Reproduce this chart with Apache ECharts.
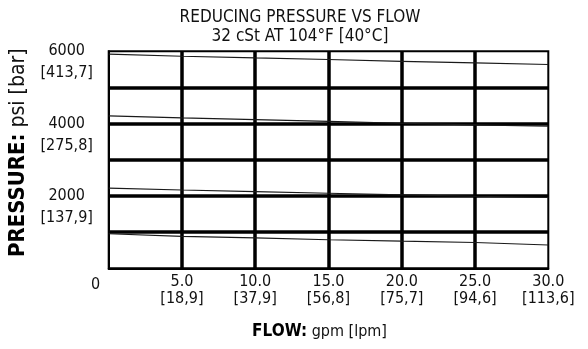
<!DOCTYPE html>
<html>
<head>
<meta charset="utf-8">
<script src="https://cdn.jsdelivr.net/npm/echarts@6/dist/echarts.min.js"></script>
<style>
html,body{margin:0;padding:0;background:#fff;}
#c{width:588px;height:349px;}
</style>
</head>
<body>
<div id="c"></div>
<script>
// Data (flow in gpm, pressure in psi)
const flowGpm = [0, 5, 10, 15, 20, 25, 30];
const curve1 = [5920, 5862, 5815, 5770, 5720, 5677, 5633];
const curve2 = [4213, 4158, 4110, 4060, 4010, 3965, 3925];
const curve3 = [2217, 2162, 2120, 2075, 2030, 1990, 1955];
const curve4 = [955, 883, 840, 790, 750, 712, 643];

// Tick labels
const xTickGpm = ['5.0', '10.0', '15.0', '20.0', '25.0', '30.0'];
const xTickLpm = ['18,9', '37,9', '56,8', '75,7', '94,6', '113,6'];
const yTickPsi = ['2000', '4000', '6000'];
const yTickBar = ['137,9', '275,8', '413,7'];

const FONT = "'Liberation Sans Narrow', 'DejaVu Sans Condensed', 'Liberation Sans', sans-serif";

function pairs(ys) { return flowGpm.map((x, i) => [x, ys[i]]); }

const chart = echarts.init(document.getElementById('c'), null, { renderer: 'canvas' });
const lineStyle = { color: '#1a1a1a', width: 1.1 };
const mkSeries = (d) => ({
  type: 'line', data: pairs(d), showSymbol: false, symbol: 'none',
  lineStyle: lineStyle, animation: false, z: 3
});

chart.setOption({
  animation: false,
  backgroundColor: '#fff',
  title: {
    text: 'REDUCING PRESSURE VS FLOW\n32 cSt AT 104°F [40°C]',
    left: 295, top: 3, textAlign: 'center',
    textStyle: { fontFamily: FONT, fontSize: 17, fontWeight: 'normal', color: '#111', lineHeight: 19 }
  },
  grid: {
    left: 108.7, right: 39.7, top: 51.2, bottom: 80.7,
    outerBoundsMode: 'none', containLabel: false,
    show: true, borderColor: '#000', borderWidth: 2, backgroundColor: 'transparent'
  },
  xAxis: {
    type: 'value', min: 0, max: 30, interval: 5,
    axisLine: { show: true, lineStyle: { color: '#000', width: 2 } },
    axisTick: { show: false },
    splitLine: { show: true, showMinLine: false, showMaxLine: false, lineStyle: { color: '#000', width: 3.5 } },
    axisLabel: {
      margin: 5, color: '#111', fontFamily: FONT, fontSize: 16, lineHeight: 17,
      formatter: function (v) {
        const i = Math.round(v / 5) - 1;
        if (i < 0 || i >= xTickGpm.length) return '';
        return xTickGpm[i] + '\n[' + xTickLpm[i] + ']';
      }
    },
    name: '{b|FLOW:} gpm [lpm]', nameLocation: 'middle', nameGap: 55,
    nameTextStyle: {
      fontFamily: FONT, fontSize: 16, color: '#111', padding: [0, 18, 0, 0],
      rich: { b: { fontFamily: FONT, fontSize: 17, fontWeight: 'bold', color: '#000' } }
    }
  },
  yAxis: {
    type: 'value', min: 0, max: 6000, interval: 1000,
    axisLine: { show: true, lineStyle: { color: '#000', width: 2 } },
    axisTick: { show: false },
    splitLine: { show: true, showMinLine: false, showMaxLine: false, lineStyle: { color: '#000', width: 3.5 } },
    axisLabel: {
      margin: 42, align: 'center', verticalAlign: 'middle', color: '#111', fontFamily: FONT, fontSize: 16, lineHeight: 22,
      formatter: function (v) {
        const i = yTickPsi.indexOf(String(v));
        if (i < 0) return '';
        return ' \n' + yTickPsi[i] + '\n[' + yTickBar[i] + ']';
      }
    },
    name: '{b|PRESSURE:} psi [bar]', nameLocation: 'middle', nameGap: 79, nameRotate: 90,
    nameTextStyle: {
      fontFamily: FONT, fontSize: 21, color: '#111', padding: [0, 0, 0, 14],
      rich: { b: { fontFamily: FONT, fontSize: 22, fontWeight: 'bold', color: '#000' } }
    }
  },
  graphic: [{
    type: 'text', left: 91, top: 277,
    style: { text: '0', font: '16px ' + FONT, fill: '#111' }
  }],
  series: [mkSeries(curve1), mkSeries(curve2), mkSeries(curve3), mkSeries(curve4)]
});
</script>
</body>
</html>
